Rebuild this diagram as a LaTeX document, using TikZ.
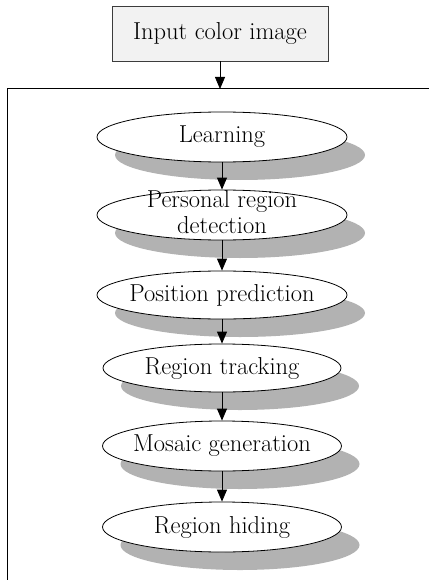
\documentclass[tikz,border=0pt]{standalone}
\usepackage{fontspec}
\usetikzlibrary{shapes.geometric,arrows.meta,shadows}
\definecolor{shadowgray}{RGB}{178,178,178}
\definecolor{boxfill}{RGB}{242,242,242}
\definecolor{boxline}{RGB}{60,60,60}
\newcommand{\zw}[1]{\makebox[0pt]{#1}}
\begin{document}
\begin{tikzpicture}[x=1pt,y=-1pt,
  txt/.style={font=\fontsize{24.5}{26}\selectfont},
  inbox/.style={txt,draw=boxline,fill=boxfill,line width=0.9pt,minimum width=216pt,minimum height=55pt,inner sep=0pt},
  proc/.style={txt,ellipse,draw=black,fill=white,line width=0.8pt,inner sep=0pt,
    drop shadow={shadow xshift=18pt,shadow yshift=-18pt,fill=shadowgray,opacity=1}},
  arr/.style={line width=0.8pt,-{Triangle[width=10pt,length=12pt]}},
  frame/.style={line width=1pt}]
\useasboundingbox (0,0) rectangle (428,580);
\node[inbox] (in) at (220,33.5) {Input color image};
\coordinate (ftop) at (220,89);
\coordinate (fcorner) at (7,89);
\coordinate (fright) at (428.5,89);
\coordinate (fbottom) at (7,580.5);
\draw[frame] (fbottom) -- (fcorner) -- (fright);
\draw[arr] (in) -- (ftop);
\node[proc,minimum width=250pt,minimum height=50pt] (l) at (222,137) {\zw{Learning}};
\node[proc,minimum width=250pt,minimum height=50pt] (p) at (222,215) {\zw{\raisebox{-18pt}[0pt][0pt]{\begin{tabular}[b]{@{}c@{}}Personal region\\detection\end{tabular}}}};
\node[proc,minimum width=250pt,minimum height=48pt] (pp) at (222,295) {\zw{Position prediction}};
\node[proc,minimum width=238pt,minimum height=48pt] (rt) at (222,368) {\zw{Region tracking}};
\node[proc,minimum width=239pt,minimum height=50pt] (mg) at (222,446) {\zw{Mosaic generation}};
\node[proc,minimum width=239pt,minimum height=50pt] (rh) at (222,527) {\zw{Region hiding}};
\draw[arr] (l) -- (p);
\draw[arr] (p) -- (pp);
\draw[arr] (pp) -- (rt);
\draw[arr] (rt) -- (mg);
\draw[arr] (mg) -- (rh);
\end{tikzpicture}
\end{document}
